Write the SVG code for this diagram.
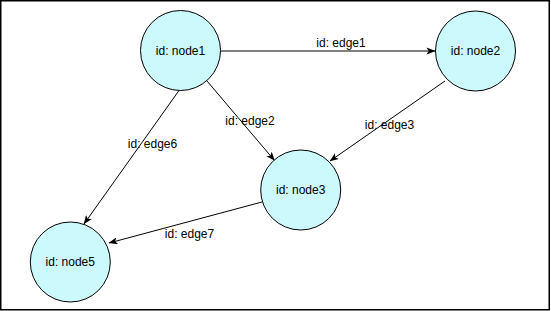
<svg xmlns="http://www.w3.org/2000/svg" width="551" height="311" viewBox="0 0 551 311">
<style>
.node{fill:#ccf9fb;stroke:#000;stroke-width:1}
.lbl{font-family:"Liberation Sans",Arial,sans-serif;font-size:12px;fill:#000;text-anchor:middle}
.edge{stroke:#000;stroke-width:1;fill:none;marker-end:url(#arr)}
</style>
<defs>
<marker id="arr" viewBox="0 0 10 8" markerUnits="userSpaceOnUse" markerWidth="9" markerHeight="7.2" refX="9.5" refY="4" orient="auto">
<path d="M0,0 L10,4 L0,8 L2.5,4 z" fill="#000"/>
</marker>
</defs>
<rect x="0.75" y="0.75" width="548.5" height="309" fill="#fff" stroke="#000" stroke-width="1.5"/>
<g id="connectors">
<g id="edge1"><line class="edge" x1="220.5" y1="51" x2="435" y2="51"/><text class="lbl" x="341" y="47">id: edge1</text></g>
<g id="edge2"><line class="edge" x1="207" y1="81" x2="274.5" y2="160.5"/><text class="lbl" x="250" y="125">id: edge2</text></g>
<g id="edge3"><line class="edge" x1="445" y1="81" x2="330" y2="161"/><text class="lbl" x="389.5" y="129">id: edge3</text></g>
<g id="edge6"><line class="edge" x1="179" y1="90.5" x2="84" y2="224"/><text class="lbl" x="152.5" y="148">id: edge6</text></g>
<g id="edge7"><line class="edge" x1="262" y1="202" x2="109" y2="243"/><text class="lbl" x="189.5" y="238">id: edge7</text></g>
</g>
<g id="node1"><circle class="node" cx="180.5" cy="50.5" r="40"/><text class="lbl" x="180.5" y="55">id: node1</text></g>
<g id="node2"><circle class="node" cx="475.5" cy="51" r="40"/><text class="lbl" x="475.5" y="55">id: node2</text></g>
<g id="node3"><circle class="node" cx="300.7" cy="190" r="40"/><text class="lbl" x="300.7" y="194">id: node3</text></g>
<g id="node5"><circle class="node" cx="70.3" cy="262" r="40"/><text class="lbl" x="70.3" y="266">id: node5</text></g>
</svg>
